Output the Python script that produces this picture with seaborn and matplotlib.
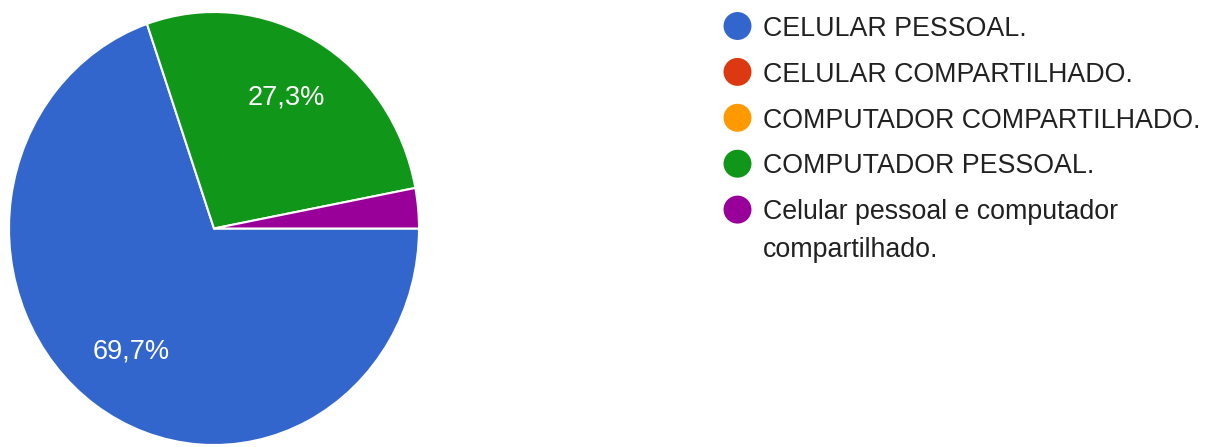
import matplotlib
matplotlib.use("Agg")
import matplotlib.pyplot as plt
import pandas as pd
import seaborn as sns

categories = ["CELULAR PESSOAL.", "CELULAR COMPARTILHADO.", "COMPUTADOR COMPARTILHADO.",
              "COMPUTADOR PESSOAL.", "Celular pessoal e computador\ncompartilhado."]
values = [69.7, 0.0, 0.0, 27.3, 3.0]
colors = ["#3366CC", "#DC3912", "#FF9900", "#109618", "#990099"]

sns.set_theme(style="white")
plt.rcParams['font.family'] = ['Liberation Sans', 'DejaVu Sans']

W, H = 1208, 447
fig = plt.figure(figsize=(W / 100, H / 100), dpi=100)

# ---- pie ----
ax = fig.add_axes([9 / W, 2 / H, 410 / W, 433 / H])
nz = [(v, c) for v, c in zip(values, colors) if v > 0]
vals = [v for v, _ in nz]
cols = [c for _, c in nz]

def fmt(p):
    return f"{p:.1f}%".replace(".", ",") if p >= 5 else ""

ax.pie(vals, colors=cols, startangle=0, counterclock=False,
       autopct=fmt, pctdistance=0.70,
       wedgeprops=dict(edgecolor="white", linewidth=1.5),
       textprops=dict(color="white", fontsize=19.5))
ax.set_xlim(-1, 1)
ax.set_ylim(-1, 1)
ax.set_aspect("auto")
ax.axis("off")

# ---- legend (pixel coordinate overlay axes) ----
lax = fig.add_axes([0, 0, 1, 1], facecolor="none")

row_pitch = 45.9
first_row = 26
leg_df = pd.DataFrame({
    "category": categories,
    "x": [737.5] * len(categories),
    "y": [first_row + i * row_pitch for i in range(len(categories))],
})
sns.scatterplot(data=leg_df, x="x", y="y", hue="category", palette=colors,
                s=405, linewidth=0, legend=False, ax=lax)
lax.set_xlim(0, W)
lax.set_ylim(H, 0)
lax.axis("off")

for _, row in leg_df.iterrows():
    for k, line in enumerate(row["category"].split("\n")):
        lax.text(763, row["y"] + 9.7 + k * 38, line, fontsize=19.3,
                 color="#212121", va="baseline", ha="left")

fig.savefig("out.png", dpi=100, facecolor="white")
